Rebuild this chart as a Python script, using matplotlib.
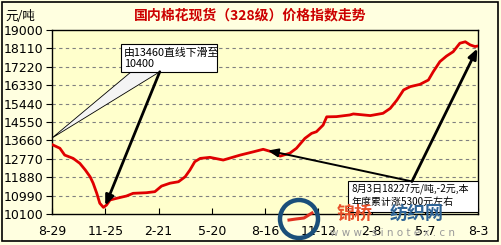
import matplotlib
matplotlib.use("Agg")
import matplotlib.pyplot as plt
from matplotlib.patches import Polygon, Rectangle, Circle
from matplotlib.lines import Line2D
import numpy as np

plt.rcParams['font.family'] = ['Noto Sans CJK SC', 'DejaVu Sans']

# ---- data ----
days = [0, 13, 21, 35, 46, 55, 63, 68, 74, 79, 85, 90, 96, 107, 123, 134, 156, 170,
        181, 195, 209, 220, 228, 236, 245, 261, 283, 311, 333, 349, 363, 377, 393,
        404, 418, 429, 437, 448, 454, 470, 492, 498, 526, 547, 559, 570, 581, 592,
        608, 622, 630, 641, 652, 663, 674, 683, 691, 699, 704]
prices = [13460, 13280, 12950, 12790, 12550, 12230, 11900, 11590, 11100, 10620,
          10420, 10530, 10780, 10860, 10970, 11100, 11130, 11180, 11450, 11590,
          11660, 11900, 12230, 12630, 12790, 12840, 12710, 12950, 13110, 13230,
          13110, 12900, 13040, 13280, 13760, 14000, 14080, 14400, 14800, 14810,
          14890, 14940, 14860, 14970, 15210, 15610, 16100, 16260, 16370, 16580,
          16980, 17470, 17740, 17950, 18360, 18430, 18280, 18200, 18227]
tick_days = [0, 88, 176, 264, 352, 440, 528, 616, 704]
tick_labels = ['8-29', '11-25', '2-21', '5-20', '8-16', '11-12', '2-8', '5-7', '8-3']
y_ticks = [10100, 10990, 11880, 12770, 13660, 14550, 15440, 16330, 17220, 18110, 19000]

title = '国内棉花现货（328级）价格指数走势'
unit = '元/吨'
note1 = '由13460直线下滑至\n10400'
note2 = '8月3日18227元/吨,-2元,本\n年度累计涨5300元左右'

W, H = 502, 245
fig = plt.figure(figsize=(W / 100, H / 100), dpi=100, facecolor='#FFFFE0')
ax = fig.add_axes([52 / W, 1 - 214 / H, 426 / W, 184 / H], facecolor='#FFFFCC')

ax.plot(days, prices, color='#E00000', lw=2.0, zorder=3, solid_joinstyle='round')

ax.set_xlim(tick_days[0], tick_days[-1])
ax.set_ylim(y_ticks[0], y_ticks[-1])
ax.set_yticks(y_ticks)
ax.set_yticklabels([str(v) for v in y_ticks], fontsize=9, family='DejaVu Sans')
ax.set_xticks(tick_days)
ax.set_xticklabels(tick_labels, fontsize=9, family='DejaVu Sans')
ax.tick_params(axis='y', direction='out', length=4, pad=2, width=0.8)
ax.tick_params(axis='x', direction='in', length=4, pad=8, width=0.8)
for v in y_ticks[1:-1]:
    ax.axhline(v, color='#808080', lw=0.8, ls=(0, (3, 3)), zorder=1)
for s in ax.spines.values():
    s.set_linewidth(1.0)
    s.set_color('black')

# ---- annotation 1 ----
trans = ax.transAxes
box1 = Rectangle((0.161, 0.773), 0.226, 0.151, transform=trans, facecolor='white',
                 edgecolor='black', lw=0.8, zorder=6, clip_on=False)
ax.add_patch(box1)
ax.text(0.168, 0.905, note1, transform=trans, fontsize=7.8, va='top', ha='left',
        zorder=7, linespacing=1.2)
wedge = Polygon([(0.186, 0.773), (0.253, 0.773), (0.0, 0.413)], closed=True,
                transform=trans, facecolor='#F4F4F4', edgecolor='black', lw=0.6,
                zorder=5, clip_on=False)
ax.add_patch(wedge)
imin = int(np.argmin(prices))
ax.annotate('', xy=(days[imin] + 3, prices[imin] + 80), xycoords='data',
            xytext=(0.253, 0.773), textcoords='axes fraction',
            arrowprops=dict(arrowstyle='-|>,head_length=0.6,head_width=0.25',
                            color='black', lw=2.0, shrinkA=0, shrinkB=0), zorder=8)

# ---- annotation 2 ----
box2 = Rectangle((0.696, 0.013), 0.304, 0.164, transform=trans, facecolor='white',
                 edgecolor='black', lw=0.8, zorder=6, clip_on=False)
ax.add_patch(box2)
ax.text(0.703, 0.165, note2, transform=trans, fontsize=7.2, va='top', ha='left',
        zorder=7, linespacing=1.3)
ax.annotate('', xy=(days[-1] - 1, prices[-1] - 120), xycoords='data',
            xytext=(0.845, 0.177), textcoords='axes fraction',
            arrowprops=dict(arrowstyle='-|>,head_length=0.6,head_width=0.25',
                            color='black', lw=2.0, shrinkA=0, shrinkB=0), zorder=8)
i816 = 29
ax.annotate('', xy=(days[i816] + 8, prices[i816] - 60), xycoords='data',
            xytext=(0.845, 0.177), textcoords='axes fraction',
            arrowprops=dict(arrowstyle='-|>,head_length=0.6,head_width=0.25',
                            color='black', lw=1.4, shrinkA=0, shrinkB=0), zorder=8)

# ---- texts ----
fig.text(250 / W, 1 - 15 / H, title, color='#CC0000', fontsize=10,
         fontweight='bold', ha='center', va='center')
fig.text(5 / W, 1 - 16 / H, unit, fontsize=9, ha='left', va='center')

# ---- watermark ----
fig.patches.append(Circle((299, H - 219), 19, transform=None, fill=False,
                          edgecolor='#1B4F7A', lw=3.2, zorder=10))
fig.lines.append(Line2D([289, 296, 304, 312], [H - 220, H - 219, H - 218, H - 213],
                        transform=None, color='#E03020', lw=2.2, zorder=11))
fig.text(337 / W, 1 - 213 / H, '锦桥', color='#E8502A', fontsize=13, fontweight='bold',
         ha='left', va='center', zorder=11)
fig.text(382 / W, 1 - 207 / H, '®', color='#888888', fontsize=6, ha='left',
         va='center', zorder=11)
fig.text(390 / W, 1 - 213 / H, '纺织网', color='#2F6496', fontsize=13, fontweight='bold',
         ha='left', va='center', zorder=11)
fig.text(393 / W, 1 - 233 / H, 'w w w . s i n o t e x . c n', color='#9A9A9A',
         fontsize=7.5, ha='center', va='center', zorder=11, family='DejaVu Sans')

# outer frame
fig.patches.append(Rectangle((2, 4), 496, 239, transform=None, fill=False,
                             edgecolor='black', lw=1.2, zorder=12))

fig.savefig('out.png', dpi=100, facecolor=fig.get_facecolor())
